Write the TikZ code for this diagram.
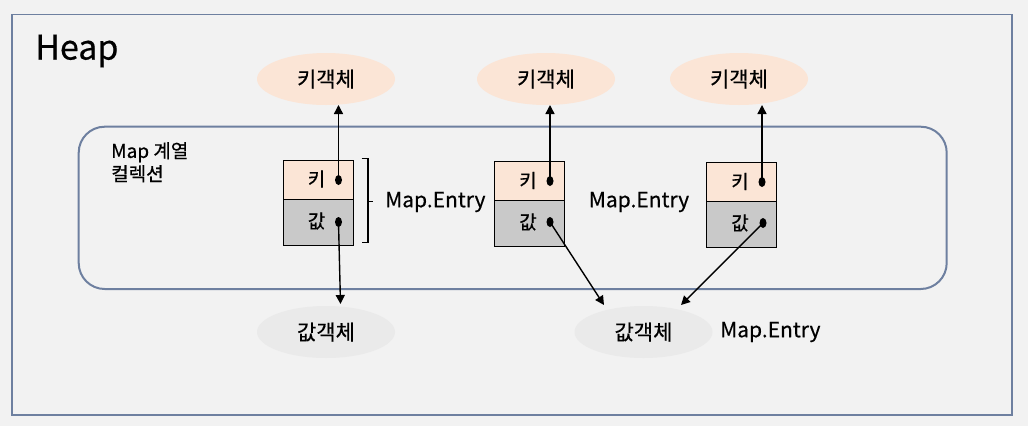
\documentclass[tikz,border=0pt]{standalone}
\usepackage{fontspec}
\setmainfont{Noto Sans CJK KR}[FakeBold=0.5]
\usetikzlibrary{arrows.meta,shapes.geometric}
\definecolor{bg}{HTML}{F2F2F2}
\definecolor{frame}{HTML}{6E80A0}
\definecolor{peach}{HTML}{FBE5D6}
\definecolor{valfill}{HTML}{C9C9C9}
\definecolor{valoval}{HTML}{EAEAEA}
\tikzset{
  keyoval/.style={ellipse, fill=peach, minimum width=138pt, minimum height=52pt, inner sep=0pt, font=\fontsize{21}{24}\selectfont},
  valobj/.style={ellipse, fill=valoval, minimum width=138pt, minimum height=52pt, inner sep=0pt, font=\fontsize{21}{24}\selectfont},
  keycell/.style={draw=black, line width=1.4pt, fill=peach, minimum width=70pt, minimum height=39pt, inner sep=0pt, anchor=north west},
  valcell/.style={draw=black, line width=1.4pt, fill=valfill, minimum width=70pt, minimum height=46pt, inner sep=0pt, anchor=north west},
  celltext/.style={inner sep=0pt, font=\fontsize{19}{22}\selectfont},
  lbl/.style={inner sep=0pt, font=\fontsize{21}{24}\selectfont},
  dot/.style={ellipse, fill=black, minimum width=7pt, minimum height=10pt, inner sep=0pt},
  conn/.style={-{Triangle[length=9pt,width=9pt]}, line width=1.4pt},
}
\begin{document}
\begin{tikzpicture}[x=1pt,y=-1pt]
\fill[bg] (0,0) rectangle (1028,426);
\useasboundingbox (0,0) rectangle (1028,426);
\draw[frame, line width=1.6pt] (11.7,14.3) rectangle (1011.7,415);
\node[anchor=west, inner sep=0pt, font=\fontsize{34}{38}\selectfont] (heap) at (35,51) {Heap};
\draw[frame, line width=2pt, rounded corners=26pt] (78.7,126.7) rectangle (946.7,289);
\node[anchor=north west, inner sep=0pt, align=left, font=\fontsize{19}{23}\selectfont] (coll) at (111,142) {Map 계열\\컬렉션};

% key objects
\node[keyoval] (k1) at (326,79) {키객체};
\node[keyoval] (k2) at (546,79) {키객체};
\node[keyoval] (k3) at (739,79) {키객체};
% value objects
\node[valobj] (v1) at (326,332) {값객체};
\node[valobj] (v2) at (643.5,332) {값객체};

% entries
\node[keycell] (e1k) at (282.5,159.5) {};
\node[valcell] (e1v) at (282.5,198.5) {};
\node[keycell] (e2k) at (494,161) {};
\node[valcell] (e2v) at (494,200) {};
\node[keycell] (e3k) at (706,162) {};
\node[valcell] (e3v) at (706,201) {};

\node[celltext] (t1k) at (316.5,179) {키};
\node[celltext] (t1v) at (316.5,221) {값};
\node[celltext] (t2k) at (528,180.5) {키};
\node[celltext] (t2v) at (528,222) {값};
\node[celltext] (t3k) at (740,181.5) {키};
\node[celltext] (t3v) at (740,223) {값};

\node[dot] (d1k) at (338.5,180) {};
\node[dot] (d1v) at (338.5,222) {};
\node[dot] (d2k) at (550,181) {};
\node[dot] (d2v) at (550,222) {};
\node[dot] (d3k) at (762,182) {};
\node[dot] (d3v) at (763,223) {};

\coordinate (a1k) at (338.5,105);
\coordinate (a1v) at (340.5,304);
\coordinate (a2k) at (550,105);
\coordinate (a2v) at (604,305);
\coordinate (a3k) at (762,105);
\coordinate (a3v) at (681,305);

\draw[conn] (d1k.center) -- (a1k);
\draw[conn] (d1v.center) -- (a1v);
\draw[conn] (d2k.center) -- (a2k);
\draw[conn] (d2v.center) -- (a2v);
\draw[conn] (d3k.center) -- (a3k);
\draw[conn] (d3v.center) -- (a3v);

% bracket
\draw[line width=1.4pt] (361.5,158.5) -- (368,158.5) -- (368,242.5) -- (361.5,242.5);
\coordinate (br) at (368,201.5);
\draw[line width=1.4pt] (br) -- (372.5,201.5);

\node[lbl, anchor=west] (m1) at (385,202) {Map.Entry};
\node[lbl] (m2) at (639,202) {Map.Entry};
\node[lbl, anchor=west] (m3) at (720,332) {Map.Entry};
\end{tikzpicture}
\end{document}
